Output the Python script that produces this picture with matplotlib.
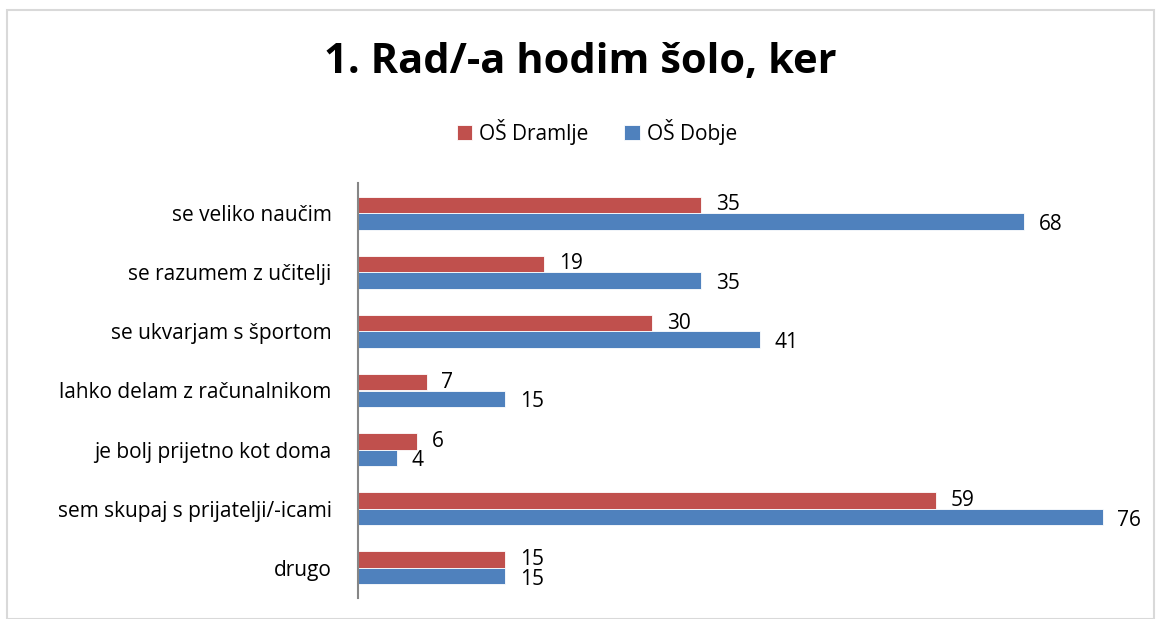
import numpy as np
import matplotlib.pyplot as plt
from matplotlib.patches import Rectangle

categories = ["se veliko naučim", "se razumem z učitelji", "se ukvarjam s športom",
              "lahko delam z računalnikom", "je bolj prijetno kot doma",
              "sem skupaj s prijatelji/-icami", "drugo"]
dramlje = [35, 19, 30, 7, 6, 59, 15]
dobje = [68, 35, 41, 15, 4, 76, 15]
series_names = ["OŠ Dramlje", "OŠ Dobje"]
title = "1. Rad/-a hodim šolo, ker"

red = "#C0504D"
blue = "#4F81BD"
plt.rcParams['font.family'] = ['Open Sans', 'DejaVu Sans']

W, H = 1161, 619
fig = plt.figure(figsize=(W / 100, H / 100), dpi=100)

# chart frame
fig.patches.append(Rectangle((7 / W, 0), (W - 14) / W, (H - 10) / H, transform=fig.transFigure,
                             fill=False, edgecolor="#d9d9d9", linewidth=1.5))

# plot area in pixels
left, right, top, bottom = 358, 1142, 183.5, 597.5
ax = fig.add_axes([left / W, 1 - bottom / H, (right - left) / W, (bottom - top) / H])

y = np.arange(len(categories))
h = 0.28
ax.barh(y - h / 2, dramlje, height=h, color=red, edgecolor="white", linewidth=0.6, label=series_names[0])
ax.barh(y + h / 2, dobje, height=h, color=blue, edgecolor="white", linewidth=0.6, label=series_names[1])

for yi, v in zip(y, dramlje):
    ax.text(v + 1.5, yi - h / 2, str(v), va="center", ha="left", fontsize=15)
for yi, v in zip(y, dobje):
    ax.text(v + 1.5, yi + h / 2 + 0.05, str(v), va="center", ha="left", fontsize=15)

ax.set_xlim(0, 80)
ax.set_ylim(len(categories) - 0.5, -0.5)
ax.set_yticks(y)
ax.set_yticklabels(categories, fontsize=15)
ax.tick_params(axis="y", length=0, pad=19)
ax.set_xticks([])
for s in ["top", "right", "bottom"]:
    ax.spines[s].set_visible(False)
ax.spines["left"].set_color("#868686")
ax.spines["left"].set_linewidth(1.5)

fig.text(580 / W, 1 - 62 / H, title, ha="center", va="center", fontsize=30, fontweight="bold")
fig.legend(loc="center", bbox_to_anchor=(597 / W, 1 - 132 / H), ncol=2, frameon=False,
           fontsize=15, handlelength=0.75, handleheight=0.75, handletextpad=0.35, columnspacing=1.7)

fig.savefig("out.png", dpi=100)
